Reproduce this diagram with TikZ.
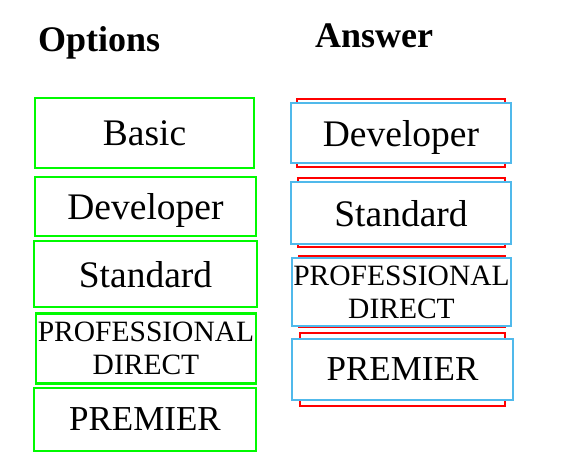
\documentclass[tikz,border=0pt]{standalone}
\usepackage{fontspec}
\setmainfont{Liberation Serif}
\definecolor{optgreen}{RGB}{0,250,0}
\definecolor{ansblue}{RGB}{80,185,235}
\definecolor{keyred}{RGB}{255,0,0}
\tikzset{
  box/.style={rectangle, inner sep=0pt, text depth=0pt, align=center,
    font=\fontsize{37.5}{42}\selectfont},
  optbox/.style={box, draw=optgreen, line width=2.5pt},
  ansbox/.style={box, draw=ansblue, line width=1.6pt, fill=white},
  keybox/.style={rectangle, inner sep=0pt, draw=keyred, line width=2.5pt},
  head/.style={anchor=base west, inner sep=0pt,
    font=\fontsize{36}{40}\selectfont\bfseries},
  small/.style={font=\fontsize{29.5}{33}\selectfont},
  prem/.style={font=\fontsize{35}{39}\selectfont}
}
\begin{document}
\begin{tikzpicture}[x=1pt,y=-1pt]
  \useasboundingbox (0,0) rectangle (566,468);

  % headings
  \node[head] (options) at (38,52) {Options};
  \node[head] (answer) at (315,48) {Answer};

  % left column
  \node[optbox, minimum width=219pt, minimum height=70pt] (basic) at (144.5,133) {Basic};
  \node[optbox, minimum width=221pt, minimum height=59pt] (dev) at (145.5,206.5) {Developer};
  \node[optbox, minimum width=223pt, minimum height=66pt] (std) at (145.5,274) {Standard};
  \node[optbox, small, minimum width=220pt, minimum height=70pt] (pro) at (146,348.5) {PROFESSIONAL\\DIRECT};
  \node[optbox, prem, minimum width=222pt, minimum height=63pt] (prem) at (145,419.5) {PREMIER};

  % right column, red frames behind
  \node[keybox, minimum width=208pt, minimum height=68pt] (keydev) at (401,133) {};
  \node[keybox, minimum width=207pt, minimum height=69pt] (keystd) at (401.5,212.5) {};
  \node[keybox, minimum width=206pt, minimum height=71pt] (keypro) at (402,291.5) {};
  \node[keybox, minimum width=205pt, minimum height=73pt] (keyprem) at (402.5,369.5) {};

  \node[ansbox, minimum width=220pt, minimum height=60pt] (ansdev) at (keydev) {Developer};
  \node[ansbox, minimum width=220pt, minimum height=62pt] (ansstd) at (401,213) {Standard};
  \node[ansbox, small, minimum width=219pt, minimum height=68pt] (anspro) at (401.5,292) {PROFESSIONAL\\DIRECT};
  \node[ansbox, prem, minimum width=221pt, minimum height=61pt] (ansprem) at (keyprem) {PREMIER};
\end{tikzpicture}
\end{document}
